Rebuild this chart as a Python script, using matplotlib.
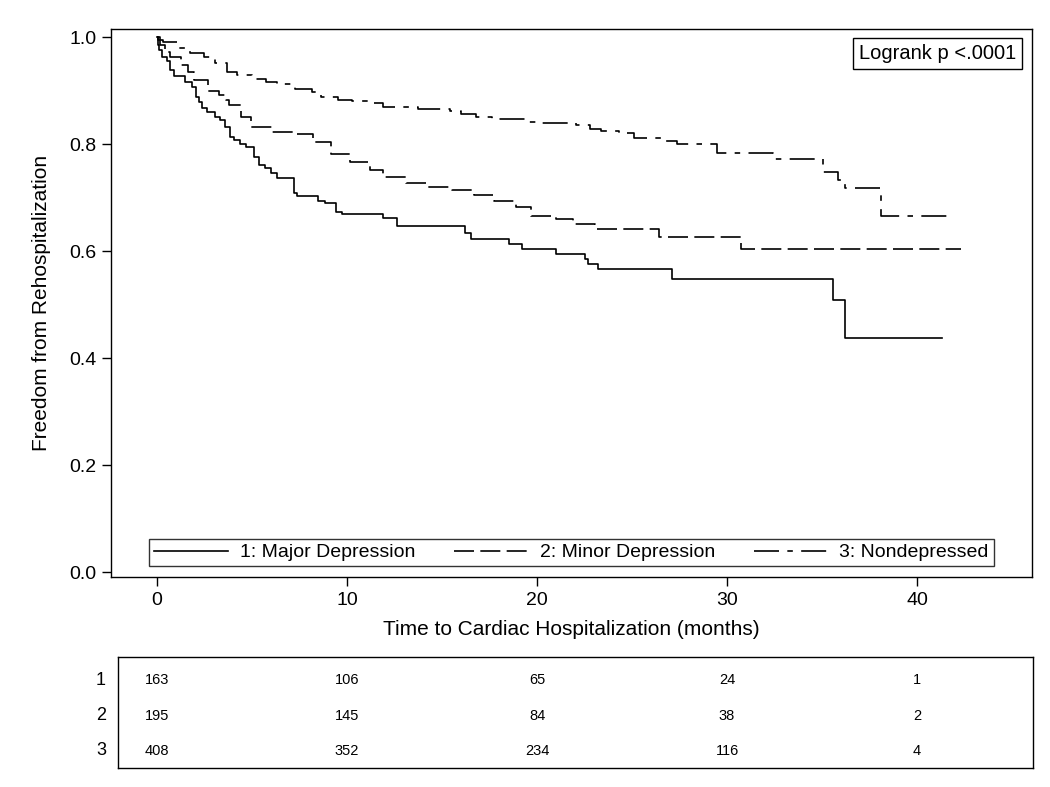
import matplotlib
matplotlib.use("Agg")
import matplotlib.pyplot as plt
import matplotlib.transforms as mtransforms

plt.rcParams['font.family'] = ['Liberation Sans', 'DejaVu Sans']

# Kaplan-Meier steps (months, survival after step)
major_t = [0, 0.05, 0.1, 0.26, 0.53, 0.68, 0.89, 1.47, 1.84, 2.05, 2.21, 2.37, 2.63,
           3.05, 3.32, 3.58, 3.84, 4.05, 4.37, 4.68, 5.1, 5.37, 5.68, 6.0, 6.32,
           7.21, 7.37, 8.47, 8.84, 9.42, 9.74, 11.9, 12.63, 16.2, 16.5, 18.5, 19.2,
           21.0, 22.5, 22.7, 23.2, 27.1, 35.6, 36.2, 41.3]
major_s = [1.0, 0.985, 0.976, 0.963, 0.955, 0.938, 0.927, 0.916, 0.907, 0.888, 0.879, 0.867, 0.860,
           0.850, 0.845, 0.832, 0.813, 0.807, 0.800, 0.794, 0.776, 0.761, 0.755, 0.746, 0.736,
           0.708, 0.703, 0.693, 0.690, 0.673, 0.669, 0.662, 0.647, 0.634, 0.622, 0.613, 0.604,
           0.594, 0.585, 0.576, 0.566, 0.548, 0.508, 0.437, 0.437]

minor_t = [0, 0.16, 0.42, 0.68, 1.26, 1.63, 1.95, 2.68, 3.26, 3.63, 3.79, 4.42, 4.95,
           6.05, 7.26, 8.21, 9.16, 10.16, 11.21, 11.9, 13.1, 14.26, 15.53, 16.68, 17.74, 18.9,
           19.68, 21.0, 21.9, 23.05, 26.42, 30.74, 42.3]
minor_s = [1.0, 0.985, 0.972, 0.963, 0.948, 0.935, 0.92, 0.90, 0.892, 0.882, 0.873, 0.85, 0.832,
           0.822, 0.818, 0.804, 0.781, 0.766, 0.751, 0.738, 0.727, 0.72, 0.714, 0.705, 0.693, 0.682,
           0.665, 0.66, 0.65, 0.641, 0.626, 0.604, 0.604]

non_t = [0, 0.05, 0.32, 1.1, 1.74, 2.47, 3.05, 3.68, 4.21, 5.0, 5.74, 6.32, 7.26, 8.16, 8.63,
         9.53, 10.26, 11.32, 11.9, 13.74, 15.42, 16.0, 16.79, 17.63, 19.47, 20.21, 22.05, 22.79,
         23.37, 24.32, 25.1, 26.74, 27.37, 29.47, 32.42, 35.05, 35.84, 36.21, 38.1, 41.68]
non_s = [1.0, 0.995, 0.99, 0.98, 0.97, 0.963, 0.951, 0.935, 0.929, 0.921, 0.916, 0.912, 0.903, 0.897, 0.888,
         0.882, 0.88, 0.876, 0.869, 0.865, 0.862, 0.856, 0.85, 0.847, 0.841, 0.839, 0.836, 0.828,
         0.824, 0.82, 0.811, 0.806, 0.80, 0.783, 0.772, 0.748, 0.733, 0.718, 0.665, 0.665]

group_labels = ['1: Major Depression', '2: Minor Depression', '3: Nondepressed']
risk_times = [0, 10, 20, 30, 40]
risk_rows = ['1', '2', '3']
risk_major = [163, 106, 65, 24, 1]
risk_minor = [195, 145, 84, 38, 2]
risk_non = [408, 352, 234, 116, 4]

fig = plt.figure(figsize=(10.5, 7.87), dpi=100)
W, H = 1050, 787

# main plot
ax = fig.add_axes([111 / W, 1 - 577 / H, (1032 - 111) / W, (577 - 29) / H])
lw = 1.2
ax.step(major_t, major_s, where='post', color='black', lw=lw, label=group_labels[0])
ax.step(minor_t, minor_s, where='post', color='black', lw=lw, dashes=(12, 3.8), label=group_labels[1])
ax.step(non_t, non_s, where='post', color='black', lw=lw, dashes=(15, 5, 3.3, 5), label=group_labels[2])

ax.set_xlim(-2.42, 46.05)
ax.set_ylim(-0.0093, 1.015)
ax.set_xticks([0, 10, 20, 30, 40])
ax.set_yticks([0.0, 0.2, 0.4, 0.6, 0.8, 1.0])
ax.set_yticklabels(['0.0', '0.2', '0.4', '0.6', '0.8', '1.0'])
ax.tick_params(direction='out', length=6.5, width=1.0, labelsize=14, pad=4, color='black')
for sp in ax.spines.values():
    sp.set_linewidth(1.0)
ax.set_xlabel('Time to Cardiac Hospitalization (months)', fontsize=15, labelpad=8)
ax.set_ylabel('Freedom from Rehospitalization', fontsize=15, labelpad=13)

leg = ax.legend(loc='lower center', ncol=3, fontsize=14, frameon=True, fancybox=False,
                edgecolor='black', handlelength=3.8, handletextpad=0.6, columnspacing=2.0,
                borderaxespad=0.55, borderpad=0.25)
leg.get_frame().set_linewidth(1.0)

ax.text(0.9826, 0.972, 'Logrank p <.0001', transform=ax.transAxes, ha='right', va='top',
        fontsize=14.5, bbox=dict(boxstyle='square,pad=0.3', fc='white', ec='black', lw=1.0))

# number at risk table
tab = fig.add_axes([118 / W, 1 - 768 / H, (1033 - 118) / W, (768 - 657) / H])
tab.set_xlim(-2.053, 46.1)
tab.set_ylim(2.48, -0.65)
tab.set_xticks([])
tab.set_yticks([])
for sp in tab.spines.values():
    sp.set_linewidth(1.0)
trans = mtransforms.blended_transform_factory(tab.transAxes, tab.transData)
for i, (row, vals) in enumerate(zip(risk_rows, [risk_major, risk_minor, risk_non])):
    tab.text(-0.013, i, row, transform=trans, ha='right', va='center', fontsize=13)
    for t, v in zip(risk_times, vals):
        tab.text(t, i, str(v), ha='center', va='center', fontsize=10.5)

fig.savefig('out.png', dpi=100)
